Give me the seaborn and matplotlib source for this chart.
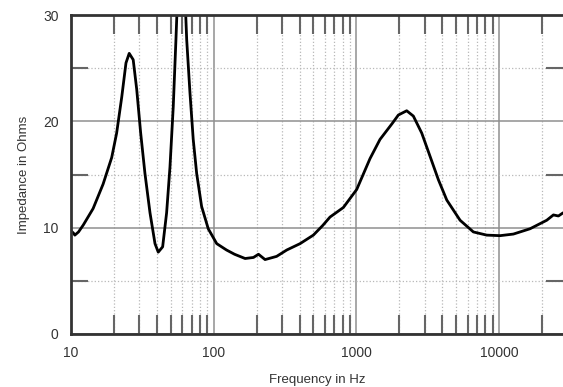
import numpy as np
import pandas as pd
import matplotlib
matplotlib.use("Agg")
import matplotlib.pyplot as plt
import seaborn as sns
from matplotlib.ticker import FixedLocator, NullFormatter

# values
freq_hz = [10, 10.4, 10.65, 11.3, 12.2, 14.3, 16.8, 19.3, 20.9, 22.7, 24.3,
           25.6, 27.3, 28.9, 30.8, 33.0, 35.8, 38.8, 40.9, 43.9, 46.8, 49.4,
           52.1, 54.4, 57, 59.5, 62, 64.7, 68.2, 71.9, 76, 82.3, 91.6, 105,
           123, 140, 166, 190, 206, 229, 276, 325, 403, 499, 580, 653, 810,
           1005, 1245, 1462, 1780, 1967, 2250, 2505, 2868, 3282, 3754, 4295,
           5322, 6596, 8180, 10150, 12580, 16460, 21540, 23990, 26000, 28060]
impedance = [9.7, 9.5, 9.3, 9.6, 10.25, 11.8, 14.1, 16.6, 18.9, 22.3, 25.5,
             26.4, 25.8, 23.0, 18.9, 15.1, 11.4, 8.5, 7.7, 8.2, 11.4, 15.7,
             21.4, 27.7, 35.0, 37.0, 34.0, 27.7, 22.7, 18.3, 15.1, 12.0, 9.9,
             8.5, 7.9, 7.5, 7.1, 7.2, 7.5, 7.0, 7.3, 7.9, 8.5, 9.3, 10.2,
             11.0, 11.9, 13.6, 16.5, 18.3, 19.8, 20.6, 21.0, 20.5, 18.9,
             16.7, 14.5, 12.6, 10.7, 9.6, 9.3, 9.25, 9.4, 9.9, 10.7, 11.2,
             11.1, 11.4]

x_major = [10, 100, 1000, 10000]
x_labels = ["10", "100", "1000", "10000"]
x_minor = [m * d for d in [10, 100, 1000, 10000] for m in range(2, 10)]
y_major = [0, 10, 20, 30]
y_minor = [5, 15, 25]

df = pd.DataFrame({"freq": freq_hz, "imp": impedance})

sns.set_theme(style="white")
plt.rcParams["font.family"] = ["Liberation Sans", "DejaVu Sans"]

fig = plt.figure(figsize=(5.63, 3.87), dpi=100)
ax = fig.add_axes([0.126, 0.137, 0.874, 0.824])

sns.lineplot(data=df, x="freq", y="imp", color="black", linewidth=2.0, ax=ax,
             solid_joinstyle="round", solid_capstyle="round")

ax.set_xscale("log")
ax.set_xlim(10, 28000)
ax.set_ylim(0, 30)

ax.xaxis.set_major_locator(FixedLocator(x_major))
ax.xaxis.set_minor_locator(FixedLocator(x_minor))
ax.set_xticklabels(x_labels)
ax.xaxis.set_minor_formatter(NullFormatter())
ax.yaxis.set_major_locator(FixedLocator(y_major))
ax.yaxis.set_minor_locator(FixedLocator(y_minor))

ax.grid(which="major", color="#909090", linewidth=1.1, linestyle="-")
ax.grid(which="minor", color="#b8b8b8", linewidth=0.9, linestyle=":")
ax.set_axisbelow(True)

ax.tick_params(which="major", length=0, pad=9, labelsize=10, labelcolor="#333333")
ax.tick_params(axis="x", which="minor", direction="in", length=14, width=1.5,
               color="#666666", top=True, bottom=True)
ax.tick_params(axis="y", which="minor", direction="in", length=12, width=1.5,
               color="#666666", left=True, right=True)

for side in ["left", "top", "bottom"]:
    ax.spines[side].set_color("#333333")
    ax.spines[side].set_linewidth(2)
ax.spines["right"].set_visible(False)

ax.set_xlabel("Frequency in Hz", fontsize=9.5, color="#333333", labelpad=10)
ax.set_ylabel("Impedance in Ohms", fontsize=9.5, color="#333333", labelpad=9)

fig.savefig("out.png", dpi=100)
